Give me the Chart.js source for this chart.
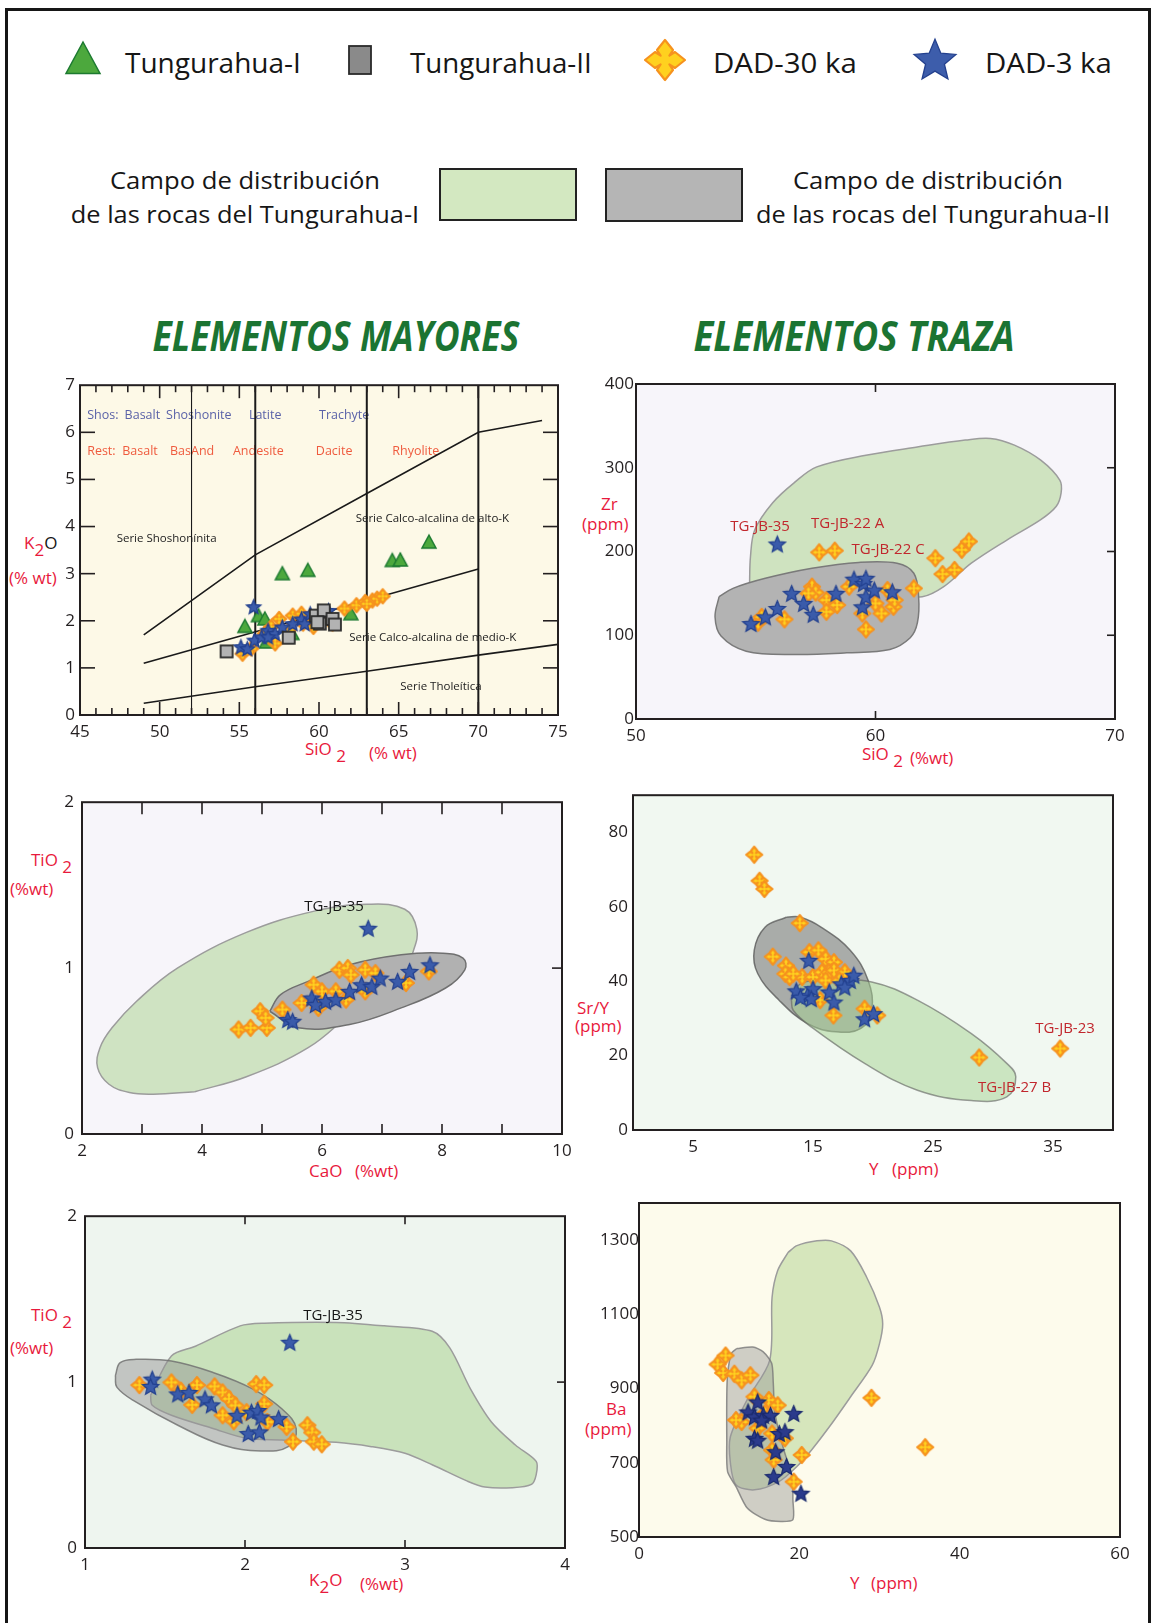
<!DOCTYPE html>
<html>
<head>
<meta charset="utf-8">
<script src="https://cdn.jsdelivr.net/npm/chart.js@4.4.1/dist/chart.umd.min.js"></script>
<style>
body{margin:0;width:1153px;height:1623px;position:relative;overflow:hidden;background:#fff;font-family:'Open Sans',sans-serif;color:#161616}
.frame{position:absolute;left:5px;top:8px;width:1140px;height:1660px;border:3px solid #161616}
.t{position:absolute;white-space:nowrap;line-height:1}
.lg{font-size:28px;transform-origin:left center}
.cp{font-size:24px;transform-origin:center center}
.sect{font-size:41px;font-weight:700;font-style:italic;color:#1b7432;transform-origin:center center}
.box{position:absolute;border:2px solid #222;box-sizing:border-box}
.ax{position:absolute;white-space:nowrap;line-height:1;font-size:17px;color:#e8193c;transform:translateY(-50%)}
.ax sub{font-size:17px;vertical-align:-0.4em;line-height:1}
.ax .k{color:#161616}
canvas{position:absolute}
</style>
</head>
<body>
<div class="frame"></div>

<div class="t lg" style="left:125px;top:62px" data-w="176" data-o="l">Tungurahua-I</div>
<div class="t lg" style="left:410px;top:62px" data-w="182" data-o="l">Tungurahua-II</div>
<div class="t lg" style="left:713px;top:62px" data-w="144" data-o="l">DAD-30 ka</div>
<div class="t lg" style="left:985px;top:62px" data-w="127" data-o="l">DAD-3 ka</div>

<div class="t cp" style="left:245px;top:180px" data-w="270">Campo de distribución</div>
<div class="t cp" style="left:245px;top:214px" data-w="348">de las rocas del Tungurahua-I</div>
<div class="box" style="left:439px;top:168px;width:138px;height:53px;background:#d3e8c1"></div>
<div class="box" style="left:605px;top:168px;width:138px;height:54px;background:#b5b5b5"></div>
<div class="t cp" style="left:928px;top:180px" data-w="270">Campo de distribución</div>
<div class="t cp" style="left:933px;top:214px" data-w="354">de las rocas del Tungurahua-II</div>

<div class="t sect" style="left:336px;top:335px" data-w="367">ELEMENTOS MAYORES</div>
<div class="t sect" style="left:854px;top:335px" data-w="321">ELEMENTOS TRAZA</div>

<!-- axis titles -->
<div class="ax" style="left:24px;top:546px">K<sub>2</sub><span class="k">O</span></div>
<div class="ax" style="left:9px;top:577px">(% wt)</div>
<div class="ax" style="left:305px;top:752px">SiO <sub>2</sub></div>
<div class="ax" style="left:369px;top:752px">(% wt)</div>

<div class="ax" style="left:601px;top:503px">Zr</div>
<div class="ax" style="left:582px;top:523px">(ppm)</div>
<div class="ax" style="left:862px;top:757px">SiO <sub>2</sub></div>
<div class="ax" style="left:910px;top:757px">(%wt)</div>

<div class="ax" style="left:31px;top:863px">TiO <sub>2</sub></div>
<div class="ax" style="left:10px;top:888px">(%wt)</div>
<div class="ax" style="left:309px;top:1170px">CaO</div>
<div class="ax" style="left:355px;top:1170px">(%wt)</div>

<div class="ax" style="left:577px;top:1007px">Sr/Y</div>
<div class="ax" style="left:575px;top:1025px">(ppm)</div>
<div class="ax" style="left:869px;top:1168px">Y</div>
<div class="ax" style="left:892px;top:1168px">(ppm)</div>

<div class="ax" style="left:31px;top:1318px">TiO <sub>2</sub></div>
<div class="ax" style="left:10px;top:1347px">(%wt)</div>
<div class="ax" style="left:309px;top:1583px">K<sub>2</sub>O</div>
<div class="ax" style="left:360px;top:1583px">(%wt)</div>

<div class="ax" style="left:606px;top:1408px">Ba</div>
<div class="ax" style="left:585px;top:1428px">(ppm)</div>
<div class="ax" style="left:850px;top:1582px">Y</div>
<div class="ax" style="left:871px;top:1582px">(ppm)</div>

<script>
// ---------- data ----------
// K2O vs SiO2
const c1Tung1 = [[57.7,3.0],[59.3,3.07],[64.6,3.28],[65.1,3.29],[66.9,3.67],[55.35,1.88],[56.2,2.11],[56.6,2.04],[62.0,2.15],[56.7,1.55],[58.3,1.73]];
const c1Tung2 = [[54.2,1.35],[58.1,1.64],[59.8,2.11],[60.3,2.22],[60.05,1.94],[60.85,2.04],[61.0,1.92],[59.9,1.97]];
const c1Dad30 = [[55.2,1.30],[55.75,1.41],[57.25,1.52],[57.5,2.04],[58.35,2.11],[59.0,1.94],[59.65,1.87],[60.4,2.08],[60.85,1.94],[61.6,2.26],[62.35,2.33],[62.9,2.40],[63.35,2.43],[63.65,2.47],[64.0,2.52],[63.0,2.36],[56.6,1.73],[59.45,2.08],[60.1,2.11],[57.0,1.87],[58.1,1.80],[58.9,2.15]];
const c1Dad3 = [[55.9,2.30],[55.1,1.45],[55.5,1.41],[55.95,1.59],[56.4,1.66],[56.8,1.80],[57.25,1.73],[57.7,1.87],[58.35,1.94],[58.9,2.04],[59.45,2.15],[60.6,2.22],[59.1,1.94],[56.8,1.66]];
const c1LineShos = [[49,1.7],[56,3.4],[63,4.7],[70,6.0],[74,6.25]];
const c1LineHighK = [[49,1.1],[70,3.1]];
const c1LineLowK = [[49,0.25],[56,0.6],[63,0.93],[70,1.27],[75,1.5]];
const c1Divides = [52, 56, 63, 70];
const c1XTicks = [45, 50, 55, 60, 65, 70, 75];
const c1YTicks = [0, 1, 2, 3, 4, 5, 6, 7];
const c1MinorX = [46,47,48,49,51,52,53,54,56,57,58,59,61,62,63,64,66,67,68,69,71,72,73,74];
const c1Labels = [
  {t:'Shos:', x:45.45, y:6.36, c:'#5a62a8', s:12.5},
  {t:'Basalt', x:47.8, y:6.36, c:'#5a62a8', s:12.5},
  {t:'Shoshonite', x:50.4, y:6.36, c:'#5a62a8', s:12.5},
  {t:'Latite', x:55.6, y:6.36, c:'#5a62a8', s:12.5},
  {t:'Trachyte', x:60.0, y:6.36, c:'#5a62a8', s:12.5},
  {t:'Rest:', x:45.45, y:5.6, c:'#ef5b3e', s:12.5},
  {t:'Basalt', x:47.65, y:5.6, c:'#ef5b3e', s:12.5},
  {t:'BasAnd', x:50.65, y:5.6, c:'#ef5b3e', s:12.5},
  {t:'Andesite', x:54.6, y:5.6, c:'#ef5b3e', s:12.5},
  {t:'Dacite', x:59.8, y:5.6, c:'#ef5b3e', s:12.5},
  {t:'Rhyolite', x:64.6, y:5.6, c:'#ef5b3e', s:12.5},
  {t:'Serie Shoshonínita', x:47.3, y:3.74, c:'#222', s:11.5},
  {t:'Serie Calco-alcalina de alto-K', x:62.3, y:4.16, c:'#222', s:11.5},
  {t:'Serie Calco-alcalina de medio-K', x:61.9, y:1.64, c:'#222', s:11.5},
  {t:'Serie Tholeítica', x:65.1, y:0.6, c:'#222', s:11.5}
];

// Zr vs SiO2
const c2Dad3 = [[55.9,209],[54.8,114],[55.4,122],[55.9,132],[56.5,150],[57.0,138],[57.4,125],[58.35,150],[59.1,167],[59.5,162],[59.6,168],[59.45,134],[59.6,146],[59.95,154],[60.7,152]];
const c2Dad30 = [[57.65,199],[58.3,201],[62.5,192],[62.8,173],[63.3,178],[63.6,202],[63.9,212],[61.6,156],[59.6,107],[55.1,115],[55.25,122],[56.2,119],[57.35,158],[57.5,151],[57.95,142],[57.95,128],[58.4,136],[58.9,158],[59.45,126],[60.0,138],[60.25,126],[60.5,154],[60.75,134],[60.8,142],[57.2,150]];
const c2FieldT1 = [[54.74,160],[54.78,194],[54.96,226],[55.7,258],[56.6,282],[57.55,301],[59.6,315],[61.8,325],[63.75,333],[64.8,335],[65.8,327],[66.9,309],[67.7,285],[67.75,270],[67.55,254],[66.9,238],[65.5,214],[64.0,186],[62.85,158],[61.95,146],[60.5,150],[58.0,165],[56.0,168],[54.74,160]];
const c2FieldT2 = [[53.47,146],[53.3,122],[53.55,99],[54.6,81],[56.6,77],[58.8,79],[60.6,83],[61.45,97],[61.75,115],[61.8,146],[61.6,174],[60.9,186],[59.3,187],[57.35,180],[55.4,168],[54.05,156],[53.47,146]];
const c2XTicks = [50, 60, 70];
const c2YTicks = [0, 100, 200, 300, 400];
const c2Labels = [
  {t:'TG-JB-35', x:55.18, y:230, c:'#c1272d', s:15, a:'center'},
  {t:'TG-JB-22 A', x:57.31, y:233, c:'#c1272d', s:15},
  {t:'TG-JB-22 C', x:59.0, y:202, c:'#c1272d', s:15}
];

// TiO2 vs CaO
const c3Dad3 = [[6.77,1.24],[5.43,0.69],[5.51,0.68],[5.83,0.82],[5.89,0.78],[6.06,0.80],[6.23,0.81],[6.46,0.86],[6.66,0.90],[6.83,0.89],[6.97,0.94],[7.26,0.92],[7.46,0.98],[7.8,1.02]];
const c3Dad30 = [[4.61,0.63],[4.81,0.64],[5.08,0.64],[4.97,0.74],[5.06,0.70],[5.34,0.75],[5.66,0.79],[5.86,0.90],[6.0,0.86],[5.94,0.76],[6.29,0.99],[6.43,1.0],[6.48,0.96],[6.72,0.99],[6.89,0.97],[6.72,0.86],[7.4,0.91],[7.78,0.98],[6.4,0.81],[6.23,0.86]];
const c3FieldT1 = [[3.88,0.255],[4.74,0.345],[5.77,0.52],[6.46,0.72],[7.03,0.88],[7.38,1.0],[7.52,1.1],[7.58,1.235],[7.38,1.355],[6.75,1.385],[5.89,1.345],[4.74,1.215],[3.59,1.0],[2.91,0.8],[2.5,0.64],[2.3,0.52],[2.26,0.4],[2.45,0.3],[2.79,0.25],[3.19,0.24],[3.88,0.255]];
const c3FieldT2 = [[5.13,0.74],[5.6,0.64],[6.46,0.66],[7.32,0.76],[8.06,0.88],[8.38,0.99],[8.35,1.06],[8.01,1.09],[7.32,1.08],[6.46,1.02],[5.77,0.92],[5.31,0.84],[5.13,0.74]];
const c3XTicks = [2, 4, 6, 8, 10];
const c3YTicks = [0, 1, 2];
const c3Labels = [{t:'TG-JB-35', x:6.2, y:1.37, c:'#161616', s:15, a:'center'}];

// Sr/Y vs Y
const c4Dad30 = [[10.1,74.0],[10.55,67.0],[10.95,64.8],[13.9,55.6],[11.65,46.6],[12.75,44.2],[12.7,42.0],[13.05,41.1],[14.1,41.1],[14.7,47.8],[15.45,48.3],[16.05,46.0],[16.75,45.1],[15.0,41.1],[15.75,42.4],[16.35,42.4],[16.05,40.2],[16.75,42.9],[17.65,42.4],[17.2,40.2],[15.6,34.9],[16.7,30.8],[19.3,32.6],[20.35,30.8],[28.85,19.5],[35.6,21.9],[13.35,42.0]];
const c4Dad3 = [[14.65,45.6],[13.6,37.4],[14.55,36.2],[15.0,38.0],[14.85,35.3],[16.35,37.1],[16.75,34.4],[17.35,39.3],[18.1,40.2],[18.4,41.6],[19.3,29.9],[20.05,31.3],[17.65,38.4],[13.95,35.7]];
const c4FieldT2 = [[12.77,57.2],[11.0,54.5],[10.1,48.3],[10.4,42.0],[12.17,34.9],[14.55,28.6],[16.9,26.4],[19.0,27.3],[19.9,32.2],[19.6,40.2],[18.1,48.3],[15.7,54.5],[13.95,57.2],[12.77,57.2]];
const c4FieldT1 = [[13.2,34.9],[13.95,39.3],[16.3,40.2],[19.9,39.8],[23.7,34.9],[28.2,25.9],[31.15,17.9],[31.9,14.3],[31.15,8.9],[28.2,7.9],[23.7,10.7],[19.3,17.9],[14.85,27.7],[13.35,32.2],[13.2,34.9]];
const c4XTicks = [5, 15, 25, 35];
const c4YTicks = [0, 20, 40, 60, 80];
const c4Labels = [
  {t:'TG-JB-23', x:36.0, y:27.3, c:'#c1272d', s:15, a:'center'},
  {t:'TG-JB-27 B', x:31.8, y:11.4, c:'#c1272d', s:15, a:'center'}
];

// TiO2 vs K2O
const c5Dad3 = [[2.28,1.24],[1.42,1.018],[1.41,0.974],[1.58,0.929],[1.65,0.938],[1.75,0.899],[1.79,0.863],[1.95,0.8],[2.04,0.819],[2.08,0.829],[2.1,0.79],[2.02,0.69],[2.09,0.7],[2.21,0.78]];
const c5Dad30 = [[1.34,0.982],[1.54,0.998],[1.6,0.948],[1.7,0.982],[1.67,0.863],[1.81,0.974],[1.86,0.938],[1.9,0.899],[1.94,0.859],[1.86,0.8],[1.93,0.764],[2.07,0.988],[2.12,0.982],[2.12,0.869],[2.14,0.76],[2.26,0.73],[2.39,0.74],[2.42,0.696],[2.3,0.641],[2.43,0.641],[2.48,0.625],[2.01,0.819]];
const c5FieldT1 = [[1.41,0.92],[1.54,1.157],[1.69,1.216],[1.97,1.339],[2.12,1.355],[2.57,1.36],[2.87,1.339],[3.17,1.306],[3.28,1.206],[3.41,0.958],[3.54,0.76],[3.69,0.621],[3.82,0.522],[3.82,0.442],[3.79,0.383],[3.67,0.363],[3.5,0.367],[3.39,0.403],[3.17,0.502],[3.0,0.571],[2.79,0.611],[2.57,0.637],[2.23,0.651],[2.01,0.661],[1.8,0.72],[1.54,0.8],[1.42,0.86],[1.41,0.92]];
const c5FieldT2 = [[1.19,1.04],[1.22,1.117],[1.32,1.137],[1.54,1.127],[1.8,1.058],[2.05,0.958],[2.23,0.839],[2.32,0.72],[2.27,0.611],[2.1,0.585],[1.86,0.621],[1.58,0.74],[1.32,0.879],[1.2,0.968],[1.19,1.04]];
const c5XTicks = [1, 2, 3, 4];
const c5YTicks = [0, 1, 2];
const c5Labels = [{t:'TG-JB-35', x:2.55, y:1.40, c:'#161616', s:15, a:'center'}];

// Ba vs Y
const c6Dad3 = [[13.6,837],[14.8,864],[14.4,824],[15.5,828],[16.4,828],[19.3,833],[14.4,766],[14.8,761],[17.5,779],[18.2,784],[17.05,730],[18.4,690],[16.8,663],[20.2,618],[15.3,815]];
const c6Dad30 = [[10.8,989],[9.8,965],[10.5,942],[11.9,940],[12.8,922],[13.9,936],[14.4,878],[16.2,869],[17.3,855],[12.8,810],[14.8,793],[16.6,779],[18.2,766],[16.6,734],[16.8,708],[19.3,649],[20.3,721],[29.0,875],[35.7,742],[15.7,833],[12.1,815]];
const c6FieldT1 = [[18.6,1267],[19.7,1285],[22.2,1298],[24.0,1298],[26.4,1271],[28.4,1200],[30.0,1119],[30.4,1074],[30.0,1021],[29.1,963],[26.4,878],[23.75,797],[21.5,734],[19.7,690],[17.5,650],[14.4,627],[12.1,641],[11.4,700],[11.4,770],[13.5,870],[16.3,976],[16.6,1146],[17.3,1218],[18.6,1267]];
const c6FieldT2 = [[12.2,1008],[14.2,1012],[15.5,999],[16.55,968],[16.75,915],[16.95,834],[18.0,740],[19.1,660],[19.2,600],[19.2,547],[17.7,542],[15.7,548],[13.5,578],[12.1,636],[11.05,676],[10.95,760],[11.0,922],[11.5,994],[12.2,1008]];
const c6XTicks = [0, 20, 40, 60];
const c6YTicks = [500, 700, 900, 1100, 1300];

// ---------- marker glyphs ----------
function glyph(w, h, draw) {
  const c = document.createElement('canvas');
  c.width = w; c.height = h;
  draw(c.getContext('2d'), w / 2, h / 2);
  return c;
}
function star(size, fill, line) {
  return glyph(size + 4, size + 4, (g, cx, cy) => {
    const r = size / 2, ri = r * 0.45;
    g.beginPath();
    for (let i = 0; i < 10; i++) {
      const a = -Math.PI / 2 + i * Math.PI / 5, rr = i % 2 ? ri : r;
      g.lineTo(cx + rr * Math.cos(a), cy + size * 0.05 + rr * Math.sin(a));
    }
    g.closePath();
    g.fillStyle = fill; g.fill();
    g.lineWidth = 1.3; g.strokeStyle = line; g.stroke();
  });
}
function cross(size) {
  return glyph(size + 4, size + 4, (g, cx, cy) => {
    const r = size / 2, w = size * 0.2, k = size * 0.11, sh = r * 0.5;
    g.beginPath();
    for (let q = 0; q < 4; q++) {
      const rot = (x, y) => {
        const a = q * Math.PI / 2;
        return [cx + x * Math.cos(a) - y * Math.sin(a), cy + x * Math.sin(a) + y * Math.cos(a)];
      };
      const p = [rot(-k, -k), rot(-w, -sh), rot(0, -r), rot(w, -sh)];
      p.forEach((pt, i) => (q === 0 && i === 0) ? g.moveTo(pt[0], pt[1]) : g.lineTo(pt[0], pt[1]));
    }
    g.closePath();
    g.lineJoin = 'round';
    g.fillStyle = '#ffd11f'; g.fill();
    g.lineWidth = 2.2; g.strokeStyle = '#f6921e'; g.stroke();
  });
}
function tri(size) {
  return glyph(size + 4, size + 4, (g, cx, cy) => {
    const r = size / 2;
    g.beginPath();
    g.moveTo(cx, cy - r); g.lineTo(cx + r, cy + r * 0.85); g.lineTo(cx - r, cy + r * 0.85);
    g.closePath();
    g.fillStyle = '#4ca83d'; g.fill();
    g.lineWidth = 1.5; g.strokeStyle = '#1c7a30'; g.stroke();
  });
}
function square(w, h, fill) {
  return glyph(w + 4, h + 4, (g, cx, cy) => {
    g.fillStyle = fill; g.fillRect(cx - w / 2, cy - h / 2, w, h);
    g.lineWidth = 1.8; g.strokeStyle = '#2a2a2a'; g.strokeRect(cx - w / 2, cy - h / 2, w, h);
  });
}

const STAR = star(17, '#3a5baa', '#22408f');
const STAR_S = star(15, '#3a5baa', '#22408f');
const STAR_D = star(17, '#2b3b8c', '#1a2a6e');
const CROSS = cross(16);
const CROSS_S = cross(14);
const TRI = tri(14);
const SQ = square(12, 12, '#b3b3b3');

// legend glyphs
[[tri(34), 83, 59], [square(22, 28, '#8a8a8a'), 360, 60], [cross(40), 665, 60], [star(44, '#3d5dab', '#23408e'), 935, 59]]
  .forEach(([cv, x, y]) => {
    cv.style.left = (x - cv.width / 2) + 'px';
    cv.style.top = (y - cv.height / 2) + 'px';
    document.body.appendChild(cv);
  });

// ---------- chart helpers ----------
const xy = a => a.map(p => ({x: p[0], y: p[1]}));
const pts = (d, img) => ({data: xy(d), showLine: false, pointStyle: img, pointRadius: 6});
const field = (d, fill, line, tension) => ({data: xy(d), showLine: true, fill: 'shape', backgroundColor: fill,
  borderColor: line, borderWidth: 1.5, pointRadius: 0, tension: tension === undefined ? 0.4 : tension});
const seg = (d, w) => ({data: xy(d), showLine: true, fill: false, borderColor: '#1a1a1a', borderWidth: w, pointRadius: 0, tension: 0});

function drawLabels(c, list) {
  const ctx = c.ctx;
  ctx.save();
  list.forEach(l => {
    ctx.font = l.s + 'px "Open Sans"';
    ctx.fillStyle = l.c;
    ctx.textAlign = l.a || 'left';
    ctx.textBaseline = 'middle';
    ctx.fillText(l.t, c.scales.x.getPixelForValue(l.x), c.scales.y.getPixelForValue(l.y));
  });
  ctx.restore();
}

function deco(o) {
  return {
    id: 'deco',
    beforeDraw(c) {
      const {ctx, chartArea: a} = c;
      ctx.save(); ctx.fillStyle = o.bg; ctx.fillRect(a.left, a.top, a.width, a.height); ctx.restore();
      if (o.under) drawLabels(c, o.labels || []);
    },
    afterDatasetDraw(c, args) {
      if (!o.under && args.index === o.labelAt) drawLabels(c, o.labels || []);
    },
    afterDraw(c) {
      const {ctx, chartArea: a} = c, X = c.scales.x, Y = c.scales.y;
      ctx.save();
      ctx.strokeStyle = '#231f20'; ctx.lineWidth = 1.6;
      const ln = (x1, y1, x2, y2) => { ctx.beginPath(); ctx.moveTo(x1, y1); ctx.lineTo(x2, y2); ctx.stroke(); };
      (o.tx || []).forEach(t => t.v.forEach(v => {
        const px = X.getPixelForValue(v);
        if (t.top) ln(px, a.top, px, a.top + t.len);
        if (t.bottom) ln(px, a.bottom, px, a.bottom - t.len);
      }));
      (o.ty || []).forEach(t => t.v.forEach(v => {
        const py = Y.getPixelForValue(v);
        if (t.left) ln(a.left, py, a.left + t.len, py);
        if (t.right) ln(a.right, py, a.right - t.len, py);
      }));
      ctx.lineWidth = 2;
      ctx.strokeRect(a.left, a.top, a.width, a.height);
      ctx.restore();
    }
  };
}

function makeChart(o) {
  const [L, T, R, B] = o.rect;
  const padT = 14, padR = 24, yW = 50, xH = 36;
  const cv = document.createElement('canvas');
  cv.width = R - L + yW + padR;
  cv.height = B - T + padT + xH;
  cv.style.left = (L - yW) + 'px';
  cv.style.top = (T - padT) + 'px';
  document.body.appendChild(cv);
  const tickFont = {family: 'Open Sans', size: 17};
  new Chart(cv, {
    type: 'line',
    data: {datasets: o.datasets},
    options: {
      responsive: false, animation: false, events: [],
      layout: {padding: {top: padT, right: padR, left: 0, bottom: 0}},
      plugins: {legend: {display: false}, tooltip: {enabled: false}},
      scales: {
        x: {
          type: 'linear', min: o.x[0], max: o.x[1],
          afterBuildTicks: s => { s.ticks = o.xt.map(v => ({value: v})); },
          afterFit: s => { s.height = xH; },
          grid: {display: false, drawTicks: false}, border: {display: false},
          ticks: {font: tickFont, color: '#231f20', padding: 7, maxRotation: 0, autoSkip: false, callback: v => String(v)}
        },
        y: {
          type: 'linear', min: o.y[0], max: o.y[1],
          afterBuildTicks: s => { s.ticks = o.yt.map(v => ({value: v})); },
          afterFit: s => { s.width = yW; },
          grid: {display: false, drawTicks: false}, border: {display: false},
          ticks: {font: tickFont, color: '#231f20', padding: o.yPad, autoSkip: false, callback: v => String(v)}
        }
      }
    },
    plugins: [deco(o)]
  });
}

// ---------- charts ----------
makeChart({
  rect: [80, 384, 558, 715], x: [45, 75], y: [0, 7], xt: c1XTicks, yt: c1YTicks, yPad: 5,
  bg: '#fdf9e7', labels: c1Labels, under: true,
  tx: [{v: [50, 55, 60, 65, 70], len: 13, top: true, bottom: true}, {v: c1MinorX, len: 7, top: true, bottom: true}],
  ty: [{v: [1, 2, 3, 4, 5, 6], len: 15, left: true, right: true}],
  datasets: [
    pts(c1Tung2, SQ), pts(c1Dad3, STAR_S), pts(c1Dad30, CROSS_S), pts(c1Tung1, TRI),
    seg(c1LineShos, 1.6), seg(c1LineHighK, 1.6), seg(c1LineLowK, 1.6),
    ...c1Divides.map(v => seg([[v, 0], [v, 7]], v === 52 ? 1.1 : 2))
  ]
});

makeChart({
  rect: [636, 384, 1115, 719], x: [50, 70], y: [0, 400], xt: c2XTicks, yt: c2YTicks, yPad: 2,
  bg: '#f7f5fa', labels: c2Labels, labelAt: 2,
  tx: [{v: [60], len: 8, top: true, bottom: true}],
  ty: [{v: [100, 200, 300], len: 8, right: true}],
  datasets: [
    pts(c2Dad3, STAR), pts(c2Dad30, CROSS),
    field(c2FieldT2, '#b3b3b3', '#7a7a7a', 0.35),
    field(c2FieldT1, '#cfe3c0', '#9c9c9c', 0.35)
  ]
});

makeChart({
  rect: [82, 798, 562, 1134], x: [2, 10], y: [0, 2], xt: c3XTicks, yt: c3YTicks, yPad: 8,
  bg: '#f7f5fa', labels: c3Labels, labelAt: 2,
  tx: [{v: [3, 4, 5, 6, 7, 8, 9], len: 12, top: true}, {v: [3, 4, 5, 6, 7, 8, 9], len: 10, bottom: true}],
  ty: [{v: [1], len: 10, right: true}],
  datasets: [
    pts(c3Dad3, STAR), pts(c3Dad30, CROSS),
    field(c3FieldT2, '#b1b1b1', '#707070'),
    field(c3FieldT1, '#cfe3c2', '#9c9c9c')
  ]
});

makeChart({
  rect: [633, 794, 1113, 1130], x: [0, 40], y: [0, 90], xt: c4XTicks, yt: c4YTicks, yPad: 5,
  bg: '#f1f8f1', labels: c4Labels, labelAt: 2,
  datasets: [
    pts(c4Dad3, STAR), pts(c4Dad30, CROSS),
    field(c4FieldT1, 'rgba(165,210,145,0.5)', 'rgba(95,95,95,0.6)'),
    field(c4FieldT2, 'rgba(110,110,110,0.55)', 'rgba(80,80,80,0.7)')
  ]
});

makeChart({
  rect: [85, 1212, 565, 1548], x: [1, 4], y: [0, 2], xt: c5XTicks, yt: c5YTicks, yPad: 8,
  bg: '#eef5ef', labels: c5Labels, labelAt: 2,
  tx: [{v: [2, 3], len: 8, top: true, bottom: true}],
  ty: [{v: [1], len: 8, right: true}],
  datasets: [
    pts(c5Dad3, STAR), pts(c5Dad30, CROSS),
    field(c5FieldT2, 'rgba(150,150,150,0.5)', 'rgba(110,110,110,0.8)'),
    field(c5FieldT1, '#c9e2bb', '#9c9c9c', 0.3)
  ]
});

makeChart({
  rect: [639, 1203, 1120, 1537], x: [0, 60], y: [500, 1400], xt: c6XTicks, yt: c6YTicks, yPad: 0,
  bg: '#fdfbec', labels: [], labelAt: 2,
  datasets: [
    pts(c6Dad3, STAR_D), pts(c6Dad30, CROSS),
    field(c6FieldT2, 'rgba(150,150,150,0.45)', 'rgba(120,120,120,0.8)', 0.25),
    field(c6FieldT1, '#d6e6bc', '#9c9c9c', 0.3)
  ]
});

// ---------- fit condensed header texts to their measured widths ----------
function fitTexts() {
  document.querySelectorAll('[data-w]').forEach(el => {
    el.style.transform = 'none';
    const k = (+el.dataset.w) / el.offsetWidth;
    el.style.transform = el.dataset.o === 'l'
      ? 'translateY(-50%) scaleX(' + k + ')'
      : 'translate(-50%,-50%) scaleX(' + k + ')';
  });
}
fitTexts();
if (document.fonts) document.fonts.ready.then(fitTexts);
</script>
</body>
</html>
